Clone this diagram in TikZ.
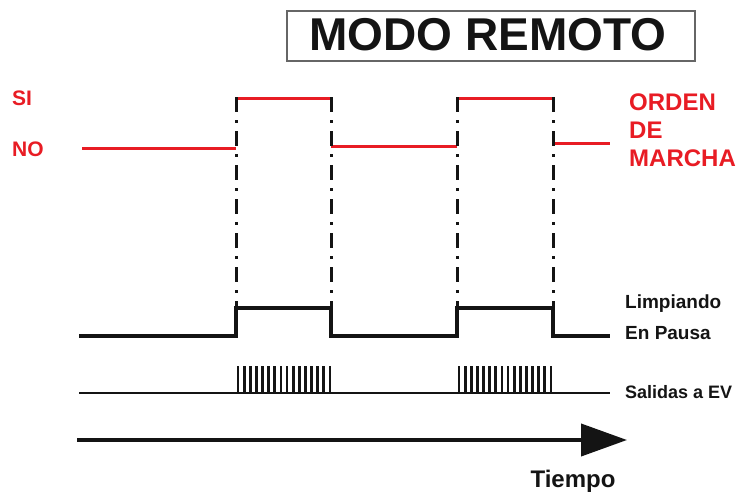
\documentclass[tikz,border=0pt]{standalone}
\usepackage{fontspec}
\setmainfont{Liberation Sans}
\usetikzlibrary{arrows.meta}
\definecolor{sigred}{RGB}{232,28,36}
\definecolor{ink}{RGB}{20,20,20}
\begin{document}
\begin{tikzpicture}[x=1pt,y=-1pt,
  redlab/.style={text=sigred,font=\bfseries\fontsize{21}{24}\selectfont,anchor=west,inner sep=0pt},
  blklab/.style={text=ink,font=\bfseries\fontsize{19}{22}\selectfont,anchor=west,inner sep=0pt},
  redsig/.style={draw=sigred,line width=3pt},
  blksig/.style={draw=ink,line width=3.4pt},
  guide/.style={draw=ink,line width=3pt,dash pattern=on 15pt off 8pt on 3pt off 8pt},
  thin/.style={draw=ink,line width=1.6pt},
  pulse/.style={draw=ink,line width=2.8pt}]
\useasboundingbox (0,0) rectangle (742,493);
% title
\node[draw=gray!80!black,line width=1.4pt,minimum width=408pt,minimum height=50pt,inner sep=0pt] (title) at (491,36) {};
\node[font=\bfseries\fontsize{46}{47}\selectfont,text=ink,inner sep=0pt] (titletext) at (488,35) {MODO REMOTO};
% left labels
\node[redlab] (si) at (12,98) {SI};
\node[redlab] (no) at (12,149) {NO};
% right labels
\node[redlab,font=\bfseries\fontsize{24}{24}\selectfont] (orden) at (629,102) {ORDEN};
\node[redlab,font=\bfseries\fontsize{24}{24}\selectfont] (de) at (629,130) {DE};
\node[redlab,font=\bfseries\fontsize{24}{24}\selectfont] (marcha) at (629,158) {MARCHA};
\node[blklab] (limp) at (625,304) {Limpiando};
\node[blklab] (pausa) at (625,333) {En Pausa};
\node[blklab,font=\bfseries\fontsize{18}{20}\selectfont] (salidas) at (625,392) {Salidas a EV};
\node[text=ink,font=\bfseries\fontsize{24}{26}\selectfont,inner sep=0pt] (tiempo) at (573,481) {Tiempo};
% red signal (horizontal levels)
\draw[redsig] (82,148) -- (236,148);
\draw[redsig] (236,98) -- (331,98);
\draw[redsig] (331,146) -- (457,146);
\draw[redsig] (457,98) -- (553,98);
\draw[redsig] (553,143) -- (610,143);
% guides
\foreach \x in {236,331,457,553}{
  \draw[guide] (\x,97) -- (\x,306);
}
% black signal
\draw[blksig] (79,336) -- (236,336) -- (236,308) -- (331,308) -- (331,336) -- (457,336) -- (457,308) -- (553,308) -- (553,336) -- (610,336);
% outputs
\draw[thin] (79,393) -- (610,393);
\foreach \i in {0,...,15}{
  \draw[pulse] (238+6.13*\i,366) -- (238+6.13*\i,393);
  \draw[pulse] (459+6.13*\i,366) -- (459+6.13*\i,393);
}
% time arrow
\coordinate (t0) at (77,440);
\coordinate (t1) at (627,440);
\draw[draw=ink,line width=4pt,-{Triangle[length=46pt,width=32pt]}] (t0) -- (t1);
\end{tikzpicture}
\end{document}
